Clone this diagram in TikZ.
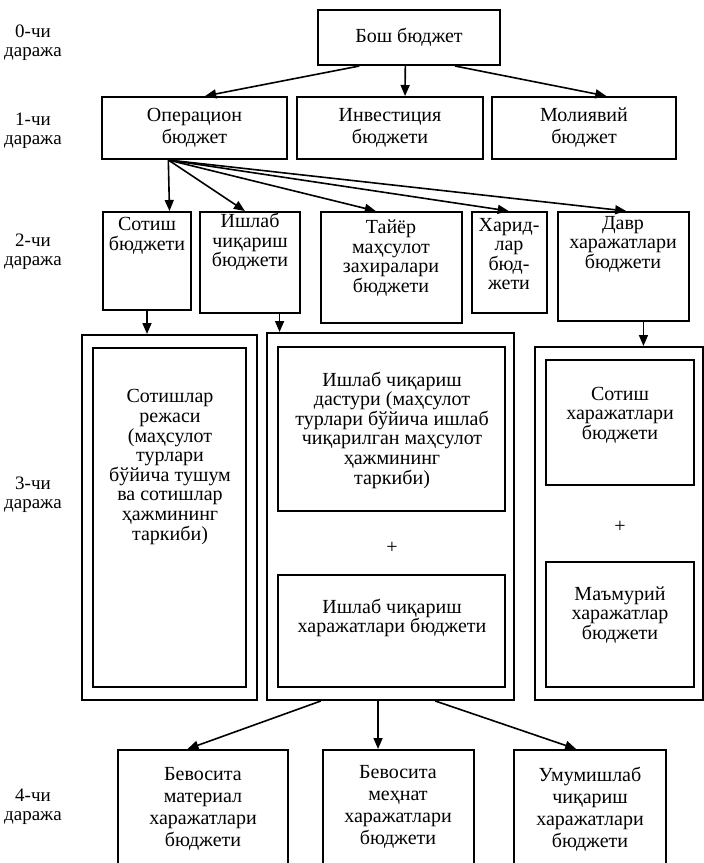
\documentclass[tikz,border=0pt]{standalone}
\usepackage{fontspec}
\setmainfont{Liberation Serif}
\usetikzlibrary{arrows.meta,fit,calc}
\tikzset{
  box/.style={draw, line width=1pt, inner sep=0pt},
  txt/.style={align=center, inner sep=0pt, font=\fontsize{10}{9.8}\selectfont},
  txtw/.style={align=center, inner sep=0pt, font=\fontsize{10}{11}\selectfont},
  lvl/.style={align=center, inner sep=0pt, font=\fontsize{9.5}{9.5}\selectfont},
  arr/.style={line width=0.8pt, -{Triangle[length=5.5pt,width=4.5pt]}},
}
\begin{document}
\begin{tikzpicture}[x=0.5pt,y=-0.5pt]
\clip (0,0) rectangle (704,863);
\fill[white] (0,0) rectangle (704,863);

% level labels
\node[lvl] (L0) at (33,43) {0-чи\\даража};
\node[lvl] (L1) at (33,131) {1-чи\\даража};
\node[lvl] (L2) at (33,252) {2-чи\\даража};
\node[lvl] (L3) at (33,495) {3-чи\\даража};
\node[lvl] (L4) at (33,807) {4-чи\\даража};

% level 0
\node[box, fit={(318,10) (500,65)}] (bosh) {};
\node[txt] (bosht) at (bosh.center) {Бош бюджет};

% level 1
\node[box, fit={(102,97) (287,159)}] (op) {};
\node[txtw] (opt) at (op.center) {Операцион\\бюджет};
\node[box, fit={(297,97) (483,159)}] (inv) {};
\node[txtw] (invt) at (inv.center) {Инвестиция\\бюджети};
\node[box, fit={(492,97) (676,159)}] (mol) {};
\node[txtw] (molt) at (mol.center) {Молиявий\\бюджет};

\draw[arr] ($(bosh.south west)!0.23!(bosh.south east)$) -- ($(op.north west)!0.557!(op.north east)$);
\draw[arr] ($(bosh.south west)!0.48!(bosh.south east)$) -- ($(inv.north west)!0.58!(inv.north east)$);
\draw[arr] ($(bosh.south west)!0.75!(bosh.south east)$) -- ($(mol.north west)!0.62!(mol.north east)$);

% level 2
\node[box, fit={(103,212) (191,310)}] (sot2) {};
\node[txt] (sot2t) at (147,236) {Сотиш\\бюджети};
\node[box, fit={(200,212) (300,313)}] (ish2) {};
\node[txt] (ish2t) at (250,242) {Ишлаб\\чиқариш\\бюджети};
\node[box, fit={(321,212) (462,323)}] (tay2) {};
\node[txt] (tay2t) at (391,258) {Тайёр\\маҳсулот\\захиралари\\бюджети};
\node[box, fit={(472,212) (547,313)}] (har2) {};
\node[txt] (har2t) at (509,254) {Харид-\\лар\\бюд-\\жети};
\node[box, fit={(558,212) (689,321)}] (dav2) {};
\node[txt] (dav2t) at (623,244) {Давр\\харажатлари\\бюджети};

\coordinate (fan) at ($(op.south west)!0.36!(op.south east)$);
\draw[arr] (fan) -- ($(sot2.north west)!0.75!(sot2.north east)$);
\draw[arr] (fan) -- ($(ish2.north west)!0.45!(ish2.north east)$);
\draw[arr] (fan) -- ($(tay2.north west)!0.39!(tay2.north east)$);
\draw[arr] (fan) -- ($(har2.north west)!0.49!(har2.north east)$);
\draw[arr] (fan) -- ($(dav2.north west)!0.52!(dav2.north east)$);

% level 3
\node[box, fit={(82,335) (257,700)}] (Aout) {};
\node[box, fit={(93,348) (246,687)}] (Ain) {};
\node[txt] (Ait) at (170,467) {Сотишлар\\режаси\\(маҳсулот\\турлари\\бўйича тушум\\ва сотишлар\\ҳажмининг\\таркиби)};

\node[box, fit={(267,333) (514,700)}] (Bout) {};
\node[box, fit={(278,347) (505,511)}] (B1) {};
\node[txt] (B1t) at (392,430) {Ишлаб чиқариш\\дастури (маҳсулот\\турлари бўйича ишлаб\\чиқарилган маҳсулот\\ҳажмининг\\таркиби)};
\node[txt] (Bplus) at (392,548) {+};
\node[box, fit={(278,575) (505,687)}] (B2) {};
\node[txt] (B2t) at (392,618) {Ишлаб чиқариш\\харажатлари бюджети};

\node[box, fit={(535,347) (703,700)}] (Cout) {};
\node[box, fit={(546,360) (694,485)}] (C1) {};
\node[txt] (C1t) at (620,415) {Сотиш\\харажатлари\\бюджети};
\node[txt] (Cplus) at (620,527) {+};
\node[box, fit={(546,562) (694,687)}] (C2) {};
\node[txt] (C2t) at (620,615) {Маъмурий\\харажатлар\\бюджети};

\draw[arr] (sot2.south) -- (sot2.south |- Aout.north);
\draw[arr] ($(ish2.south west)!0.79!(ish2.south east)$) coordinate (i2s) -- (i2s |- Bout.north);
\draw[arr] ($(dav2.south west)!0.65!(dav2.south east)$) coordinate (d2s) -- (d2s |- Cout.north);

% level 4
\node[box, fit={(118,750) (288,890)}] (l4a) {};
\node[txtw] (l4at) at (203,809) {Бевосита\\материал\\харажатлари\\бюджети};
\node[box, fit={(323,750) (474,890)}] (l4b) {};
\node[txtw] (l4bt) at (398,807) {Бевосита\\меҳнат\\харажатлари\\бюджети};
\node[box, fit={(514,750) (666,890)}] (l4c) {};
\node[txtw] (l4ct) at (590,809) {Умумишлаб\\чиқариш\\харажатлари\\бюджети};

\draw[arr] ($(Bout.south west)!0.22!(Bout.south east)$) -- ($(l4a.north west)!0.41!(l4a.north east)$);
\draw[arr] ($(Bout.south west)!0.45!(Bout.south east)$) coordinate (bm) -- (bm |- l4b.north);
\draw[arr] ($(Bout.south west)!0.68!(Bout.south east)$) -- ($(l4c.north west)!0.41!(l4c.north east)$);
\end{tikzpicture}
\end{document}
